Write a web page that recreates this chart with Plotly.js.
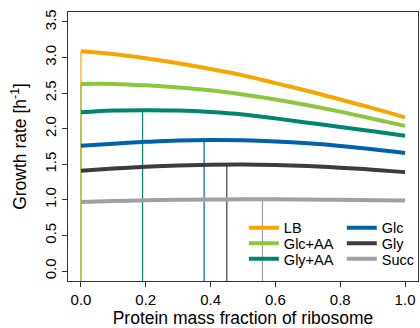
<!DOCTYPE html>
<html>
<head>
<meta charset="utf-8">
<script src="https://cdn.plot.ly/plotly-3.0.1.min.js"></script>
<style>html,body{margin:0;padding:0;background:#fff}#chart{width:420px;height:328px}</style>
</head>
<body>
<div id="chart"></div>
<script>
// Protein mass fraction of ribosome
const xs = [0, 0.1, 0.2, 0.3, 0.4, 0.5, 0.6, 0.7, 0.8, 0.9, 1.0];
// Growth rates [h^-1]
const rateLB    = [3.09, 3.05, 2.99, 2.92, 2.84, 2.75, 2.64, 2.53, 2.41, 2.29, 2.16];
const rateGlcAA = [2.63, 2.63, 2.61, 2.58, 2.54, 2.48, 2.41, 2.33, 2.24, 2.14, 2.04];
const rateGlyAA = [2.23, 2.255, 2.26, 2.255, 2.235, 2.20, 2.145, 2.085, 2.025, 1.965, 1.90];
const rateGlc   = [1.76, 1.79, 1.815, 1.835, 1.842, 1.838, 1.822, 1.795, 1.757, 1.712, 1.66];
const rateGly   = [1.41, 1.44, 1.465, 1.483, 1.494, 1.497, 1.49, 1.475, 1.452, 1.424, 1.39];
const rateSucc  = [0.97, 0.984, 0.994, 1.0, 1.004, 1.007, 1.007, 1.004, 1.0, 0.995, 0.99];

const names  = ["LB", "Glc+AA", "Gly+AA", "Glc", "Gly", "Succ"];
const series = [rateLB, rateGlcAA, rateGlyAA, rateGlc, rateGly, rateSucc];
// optimal ribosome fraction and growth rate
const optX = [0.0, 0.0, 0.19, 0.38, 0.45, 0.56];
const optY = [3.09, 2.63, 2.26, 1.842, 1.497, 1.007];

const colors = ["#F7A600", "#8DC63F", "#00856E", "#0063A9", "#3C3C3C", "#A0A0A0"];
const xRange = [-0.04, 1.04];
const yRange = [-0.14, 3.64];

const traces = [];
// vertical optimum lines
for (let i = 0; i < names.length; i++) {
  traces.push({
    x: [optX[i], optX[i]], y: [yRange[0], optY[i]],
    mode: "lines", line: {color: colors[i], width: 1.2},
    showlegend: false, hoverinfo: "skip", cliponaxis: true
  });
}
// curves
const legendIds = ["legend", "legend2", "legend3", "legend4", "legend5", "legend6"];
for (let i = 0; i < names.length; i++) {
  traces.push({
    x: xs, y: series[i], name: names[i],
    mode: "lines", line: {color: colors[i], width: 4, shape: "spline"},
    legend: legendIds[i]
  });
}

const legFont = {family: "Liberation Sans, Arial, sans-serif", size: 14.5, color: "#000"};
const legPos = [
  [0.501, 0.198], [0.501, 0.140], [0.501, 0.082],
  [0.780, 0.198], [0.780, 0.140], [0.780, 0.082]
];
const layout = {
  width: 420, height: 328,
  margin: {l: 68, r: 1, t: 12, b: 47},
  paper_bgcolor: "#fff", plot_bgcolor: "#fff",
  font: {family: "Liberation Sans, Arial, sans-serif", color: "#000", size: 15},
  xaxis: {
    range: xRange, dtick: 0.2, tick0: 0, tickformat: ".1f",
    showgrid: false, zeroline: false,
    showline: true, mirror: true, linecolor: "#333", linewidth: 1,
    ticks: "outside", ticklen: 5, tickcolor: "#333", tickwidth: 1,
    tickfont: {size: 15},
    title: {text: "Protein mass fraction of ribosome", font: {size: 17.5}, standoff: 6}
  },
  yaxis: {
    range: yRange, dtick: 0.5, tick0: 0, tickformat: ".1f", tickangle: -90,
    showgrid: false, zeroline: false,
    showline: true, mirror: true, linecolor: "#333", linewidth: 1,
    ticks: "outside", ticklen: 5, tickcolor: "#333", tickwidth: 1,
    tickfont: {size: 15},
    title: {text: "Growth rate [h<sup>-1</sup>]", font: {size: 17.5}, standoff: 10}
  },
  showlegend: true
};
for (let i = 0; i < legendIds.length; i++) {
  layout[legendIds[i]] = {
    x: legPos[i][0], y: legPos[i][1], xanchor: "left", yanchor: "middle",
    xref: "paper", yref: "paper",
    bgcolor: "rgba(0,0,0,0)", borderwidth: 0, font: legFont
  };
}
Plotly.newPlot("chart", traces, layout, {displayModeBar: false, staticPlot: true});
</script>
</body>
</html>
